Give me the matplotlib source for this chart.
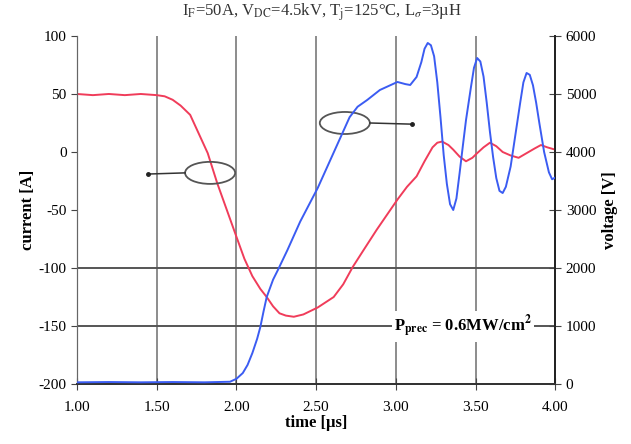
import numpy as np
import matplotlib
matplotlib.use('Agg')
import matplotlib.pyplot as plt
from matplotlib.patches import Ellipse

plt.rcParams['font.family'] = ['Liberation Serif', 'DejaVu Serif']
plt.rcParams['mathtext.fontset'] = 'stix'

# current [A] vs time [us]
t_cur = [1.00, 1.10, 1.20, 1.30, 1.40, 1.50, 1.55, 1.60, 1.65, 1.71, 1.76, 1.82, 1.88, 1.94,
         2.00, 2.05, 2.10, 2.15, 2.19, 2.23, 2.27, 2.31, 2.36, 2.42, 2.51, 2.61, 2.67, 2.73,
         2.80, 2.88, 2.95, 3.01, 3.07, 3.13, 3.18, 3.23, 3.26, 3.29, 3.33, 3.36, 3.40, 3.44, 3.48,
         3.51, 3.55, 3.59, 3.63, 3.67, 3.72, 3.77, 3.82, 3.87, 3.91, 3.95, 4.00]
current = [50, 49, 50, 49, 50, 49, 48, 45, 40, 32, 17, -1, -27, -50,
           -73, -92, -107, -118, -125, -133, -139, -141, -142, -140, -134, -125, -114, -99,
           -84, -67, -53, -41, -30, -21, -8, 4, 8, 9, 6, 2, -4, -8, -5,
           -1, 4, 8, 5, 0, -3, -5, -1, 3, 6, 4, 2]

# voltage [V] vs time [us]
t_volt = [1.00, 1.20, 1.40, 1.60, 1.80, 1.96, 2.00, 2.04, 2.07, 2.10, 2.13, 2.15, 2.17, 2.19,
          2.23, 2.26, 2.32, 2.40, 2.51, 2.61, 2.71, 2.76, 2.82, 2.90, 3.01, 3.06, 3.09, 3.13,
          3.16, 3.18, 3.20, 3.22, 3.24, 3.26, 3.28, 3.30, 3.32, 3.34, 3.36, 3.38, 3.40, 3.42,
          3.44, 3.47, 3.49, 3.51, 3.53, 3.55, 3.57, 3.59, 3.61, 3.63, 3.65, 3.67, 3.69, 3.72,
          3.75, 3.78, 3.80, 3.82, 3.84, 3.86, 3.88, 3.90, 3.93, 3.96, 3.98, 4.00]
voltage = [30, 35, 30, 35, 30, 40, 90, 190, 330, 534, 780, 983, 1250, 1500,
           1800, 1965, 2310, 2800, 3380, 3990, 4600, 4780, 4896, 5069, 5207, 5170, 5155, 5293,
           5550, 5780, 5879, 5840, 5650, 5200, 4600, 3950, 3450, 3100, 3000, 3200, 3638, 4100,
           4550, 5100, 5450, 5620, 5560, 5300, 4850, 4350, 3913, 3550, 3330, 3293, 3400, 3750,
           4300, 4850, 5200, 5362, 5330, 5150, 4850, 4500, 4000, 3650, 3530, 3560]

x_ticks = [1.0, 1.5, 2.0, 2.5, 3.0, 3.5, 4.0]
x_labels = ['1.00', '1.50', '2.00', '2.50', '3.00', '3.50', '4.00']

fig = plt.figure(figsize=(6.31, 4.44), dpi=100)
ax = fig.add_axes([0.122, 0.135, 0.758, 0.784])
ax2 = ax.twinx()

ax.set_xlim(1.0, 4.0)
ax.set_ylim(-200, 100)
ax2.set_ylim(0, 6000)

# grid lines
for xv in x_ticks[1:-1]:
    ax.axvline(xv, color='#8c8c8c', lw=1.4, zorder=1)
ax.axhline(-100, color='#555555', lw=1.4, zorder=1)
ax.axhline(-150, color='#555555', lw=1.4, zorder=1)

ax.plot(t_cur, current, color='#f03c5a', lw=1.4, zorder=3)
ax2.plot(t_volt, voltage, color='#3b5cf2', lw=1.4, zorder=3)

# annotation ellipses
ax.add_patch(Ellipse((1.835, -18), 0.314, 19, fill=False, ec='#555555', lw=1.3, zorder=4))
ax.plot([1.446, 1.678], [-19, -18], color='#333333', lw=1.1, zorder=4)
ax.plot([1.446], [-19], 'o', color='#222222', ms=2.5, zorder=4)
ax.add_patch(Ellipse((2.68, 25), 0.314, 19, fill=False, ec='#555555', lw=1.3, zorder=4))
ax.plot([2.837, 3.10], [25, 24], color='#333333', lw=1.1, zorder=4)
ax.plot([3.10], [24], 'o', color='#222222', ms=2.5, zorder=4)

ax.text(3.42, -150, r'P$_{\mathbf{prec}}$ = 0.6MW/cm$^{\mathbf{2}}$', fontsize=12, fontweight='bold',
        ha='center', va='center', zorder=5,
        bbox=dict(facecolor='white', edgecolor='none', pad=1.5))

ax.set_xticks(x_ticks)
ax.set_xticklabels(x_labels)
ax.set_yticks([100, 50, 0, -50, -100, -150, -200])
ax.set_yticklabels(['100', '50', '0', '-50', '-100', '-150', '-200'])
ax2.set_yticks([0, 1000, 2000, 3000, 4000, 5000, 6000])

ax.tick_params(axis='y', direction='out', length=4, labelsize=11, color='#444444')
ax.tick_params(axis='x', direction='inout', length=8, labelsize=11, color='#444444', pad=8)
ax2.tick_params(axis='y', direction='inout', length=8, labelsize=11, color='#444444')

for a in (ax, ax2):
    a.spines['top'].set_visible(False)
    a.spines['left'].set_color('#666666')
    a.spines['right'].set_color('#222222')
    a.spines['bottom'].set_color('#333333')
    a.spines['right'].set_linewidth(1.3)
    a.spines['bottom'].set_linewidth(1.3)

ax.set_xlabel('time [µs]', fontsize=12, fontweight='bold', labelpad=1)
ax.set_ylabel('current [A]', fontsize=12, fontweight='bold', labelpad=2)
ax2.set_ylabel('voltage [V]', fontsize=12, fontweight='bold', rotation=90, labelpad=4)

fig.text(0.51, 0.972, r'I$_\mathrm{F}$=50A, V$_\mathrm{DC}$=4.5kV, T$_\mathrm{j}$=125°C, L$_\sigma$=3µH',
         ha='center', va='center', fontsize=12, color='#333333')

fig.savefig('out.png', dpi=100)
